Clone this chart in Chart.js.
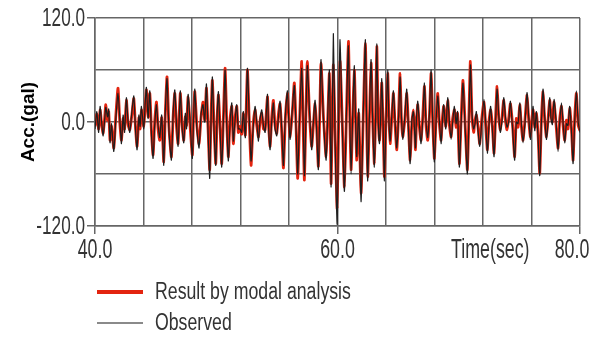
<!DOCTYPE html>
<html>
<head>
<meta charset="utf-8">
<title>Acceleration time history</title>
<script src="https://cdn.jsdelivr.net/npm/chart.js@4.4.0/dist/chart.umd.min.js"></script>
<style>
  html, body { margin: 0; padding: 0; background: #fff; }
  #wrap { position: relative; width: 594px; height: 338px; overflow: hidden; }
  #legend {
    position: absolute; left: 97px; top: 276px;
    font-family: "Liberation Sans", Arial, sans-serif;
    font-size: 23px; color: #333;
  }
  .item { display: flex; align-items: center; height: 31px; }
  .swatch { width: 46px; margin-right: 12px; }
  .item span { display: inline-block; transform: scaleX(0.77); transform-origin: 0 50%; white-space: nowrap; }
</style>
</head>
<body>
<div id="wrap">
  <canvas id="chart" width="594" height="338"></canvas>
  <div id="legend"></div>
</div>
<script>
// ========================== Datos
const times = [
  40.00, 40.15, 40.30, 40.42, 40.56, 40.67, 40.80, 40.89, 41.03, 41.13, 41.24, 41.36, 41.55, 41.72, 41.90,
  42.05, 42.18, 42.32, 42.44, 42.59, 42.73, 42.87, 43.04, 43.20, 43.34, 43.47, 43.62, 43.72, 43.83, 44.02,
  44.14, 44.24, 44.38, 44.52, 44.66, 44.79, 44.93, 45.07, 45.20, 45.34, 45.50, 45.67, 45.80, 45.94,
  46.10, 46.30, 46.45, 46.58, 46.72, 46.85, 46.95, 47.04, 47.18, 47.32, 47.45, 47.55, 47.68, 47.85,
  48.03, 48.13, 48.23, 48.40, 48.58, 48.75, 48.91, 49.05, 49.19, 49.33, 49.46, 49.57, 49.68, 49.82, 49.96,
  50.07, 50.18, 50.32, 50.45, 50.60, 50.73, 50.87, 51.00, 51.14, 51.28, 51.41, 51.55, 51.69, 51.82, 51.96,
  52.10, 52.24, 52.40, 52.57, 52.72, 52.87, 53.03, 53.20, 53.34, 53.48, 53.62, 53.75, 53.89, 54.03,
  54.22, 54.32, 54.44, 54.58, 54.71, 54.85, 54.99, 55.12, 55.26, 55.40, 55.54, 55.70, 55.87,
  55.98, 56.09, 56.27, 56.44, 56.58, 56.72, 56.88, 57.05, 57.16, 57.27, 57.39, 57.51, 57.70, 57.87, 58.01,
  58.15, 58.28, 58.42, 58.53, 58.64, 58.85, 59.06, 59.20, 59.33, 59.40, 59.47, 59.56, 59.66, 59.80, 59.97,
  60.09, 60.21, 60.39, 60.57, 60.73, 60.90, 61.01, 61.12, 61.25, 61.39, 61.49, 61.59, 61.75, 61.94, 62.12,
  62.30, 62.40, 62.49, 62.63, 62.77, 62.90, 63.04, 63.14, 63.24, 63.35, 63.46, 63.55, 63.65, 63.76, 63.87, 64.00,
  64.14, 64.24, 64.34, 64.48, 64.61, 64.75, 64.89, 65.03, 65.16, 65.27, 65.38, 65.55, 65.71, 65.85, 65.99,
  66.13, 66.26, 66.34, 66.43, 66.52, 66.62, 66.75, 66.89, 67.03, 67.17, 67.30, 67.44, 67.58, 67.72, 67.86, 67.99, 68.13,
  68.27, 68.40, 68.54, 68.65, 68.76, 68.93, 69.09, 69.23, 69.37, 69.50, 69.64, 69.78, 69.90, 70.05,
  70.20, 70.35, 70.53, 70.71, 70.84, 70.96, 71.10, 71.23, 71.34, 71.45, 71.59, 71.73, 71.90,
  72.08, 72.22, 72.36, 72.50, 72.63, 72.77, 72.91, 73.04, 73.16, 73.30, 73.43, 73.57, 73.71, 73.85, 73.98,
  74.12, 74.26, 74.44, 74.61, 74.75, 74.89, 75.03, 75.16, 75.30, 75.47, 75.63, 75.77, 75.91,
  76.03, 76.13, 76.27, 76.40, 76.54, 76.68, 76.82, 76.95, 77.09, 77.23, 77.37, 77.50, 77.61, 77.72, 77.86,
  78.03, 78.19, 78.33, 78.47, 78.60, 78.74, 78.88, 79.01, 79.15, 79.29, 79.43, 79.56, 79.70, 79.85, 80.00
];

// Resultado por análisis modal (rojo)
const modal = [
  -5, 9, -8, 14, -4, -13, 5, 20, 2, 12, -21, -5, -30, 8, 39,
  -2, -21, 4, -8, 25, -3, -9, 8, 27, -6, -28, 5, -8, 14, -5,
  18, 37, 6, 33, -12, -38, 2, 23, -8, -21, 5, -46, 10, 52,
  -6, -40, 8, 33, -5, -25, 10, 33, -3, -21, 6, -4, 29, -6,
  -38, 8, 35, -4, -25, 6, 23, 2, 39, -10, -55, 6, 48, -6, -48,
  4, 31, -8, -48, 10, 62, -2, -40, 4, 18, -25, 5, 18, -12, -5,
  -14, 10, -15, 60, 2, -50, -6, 14, -4, -17, 2, 10, -8, -9,
  29, -4, -28, 6, 25, -4, -13, 8, 21, -12, -53, 4, 33,
  6, -17, 10, 45, -4, -65, 4, 70, 0, -67, 6, 70, 6, -28, -4,
  21, -6, -51, 4, 68, 4, -40, 6, 56, 0, -71, -6, 66, -10, -100,
  -8, 70, 2, -75, 4, 93, 10, -55, 2, 60, 6, -44, 10, -82, 4,
  91, 4, -63, 2, 68, 4, -48, 6, 87, 10, -21, 6, 45, -6, -63, 4,
  56, 6, -25, 4, 33, -4, -32, 6, 56, 4, -17, 2, 33, -4, -44,
  -2, 14, -2, -32, 2, 20, -6, -21, 6, 41, -4, -21, 6, 56, -2, -42, 4,
  33, -2, -21, 4, 18, -5, 25, -4, -17, 4, 14, -6, 10, -48,
  4, 48, -4, -55, 8, 70, 4, -12, 2, 8, -6, -25, 4,
  23, -4, -32, 2, 14, -4, -36, 6, 41, 4, -9, 6, 25, 2, -9,
  4, 21, -4, -40, 4, -6, 20, -4, -21, 4, 31, 2, -17,
  4, 14, -6, 10, -14, -59, 4, 35, 2, -17, 4, 25, 8, 0, 23,
  -4, -30, 4, 18, -4, -21, 2, -8, 16, -6, -44, 4, 33, -4, -10
];

// Registro observado (negro)
const observed = [
  -8, 12, -12, 18, -2, -16, 3, 17, 6, 15, -24, -2, -34, 4, 33,
  3, -25, 8, -12, 28, 0, -12, 12, 30, -9, -32, 8, -5, 18, -8,
  22, 40, 4, 36, -16, -42, -2, 20, -4, -18, 8, -50, 14, 50,
  -10, -44, 12, 37, -2, -28, 6, 36, -6, -24, 10, -8, 32, -2,
  -42, 4, 38, -8, -30, 10, 20, 0, 44, -14, -65, 2, 52, -10, -50,
  8, 35, -12, -52, 6, 60, -6, -45, 0, 22, -22, 2, 20, -8, -8,
  -12, 12, -18, 62, 6, -45, -10, 18, 0, -22, 4, 14, -4, -12,
  32, -8, -32, 2, 22, -8, -16, 4, 24, -8, -50, 8, 36,
  2, -20, 14, 42, -8, -60, 8, 62, 5, -62, 2, 65, 10, -32, 0,
  25, -10, -55, 8, 72, 0, -44, 10, 60, -4, -75, 0, 102, -20, -118,
  0, 95, -4, -80, 8, 88, 6, -60, 6, 65, 2, -40, 15, -92, 8,
  95, 0, -68, 6, 72, 0, -52, 2, 90, 6, -25, 2, 50, -2, -68, 0,
  60, 2, -22, 8, 36, 0, -30, 2, 52, 8, -20, 6, 38, -8, -48,
  2, 12, -6, -30, 6, 24, -2, -25, 2, 45, 0, -18, 10, 60, -6, -46, 0,
  30, 2, -25, 0, 20, -8, 28, 0, -20, 0, 18, -2, 12, -52,
  0, 45, -8, -60, 4, 66, 8, -8, -2, 12, -10, -28, 0,
  26, 0, -36, -2, 18, -8, -40, 2, 38, 8, -12, 2, 28, 6, -6,
  0, 24, -8, -44, 0, -2, 22, 0, -24, 0, 34, 6, -20,
  0, 18, -10, 12, -18, -62, 0, 38, 6, -20, 0, 28, 4, -3, 26,
  0, -34, 0, 22, 0, -24, -2, -4, 18, -10, -48, 0, 36, 0, -12
];

const yLabels = [120, 0, -120];
const xLabels = [40, 60, 80];
const xTitleAt = 72.6;
const xTitle = "Time(sec)";
const yTitle = "Acc.(gal)";

// ========================== Gráfica
const gridColor = "#666666";
const textColor = "#333";

const toPoints = (vals) => times.map((t, i) => ({ x: t, y: vals[i] }));

// texto estrecho (la figura usa una fuente condensada)
function squeezedText(ctx, text, x, y, size, sx, align, baseline) {
  ctx.save();
  ctx.translate(x, y);
  ctx.scale(sx, 1);
  ctx.font = size + 'px "Liberation Sans", Arial, sans-serif';
  ctx.fillStyle = textColor;
  ctx.textAlign = align;
  ctx.textBaseline = baseline;
  ctx.fillText(text, 0, 0);
  ctx.restore();
}

const tickLabels = {
  id: "tickLabels",
  afterDraw(chart) {
    const { ctx, scales: { x, y } } = chart;
    yLabels.forEach((v) => {
      squeezedText(ctx, v.toFixed(1), y.right - 10, y.getPixelForValue(v) + 1, 26, 0.66, "right", "middle");
    });
    xLabels.forEach((v) => {
      const px = Math.min(x.getPixelForValue(v), chart.width - 22);
      squeezedText(ctx, v.toFixed(1), px, x.top + 11, 27, 0.66, "center", "top");
    });
    squeezedText(ctx, xTitle, x.getPixelForValue(xTitleAt), x.top + 11, 27, 0.66, "center", "top");
  }
};

const chart = new Chart(document.getElementById("chart"), {
  type: "line",
  data: {
    datasets: [
      {
        label: "Observed",
        data: toPoints(observed),
        borderColor: "#1e1e1e",
        legendColor: "#8a8a8a",
        legendWidth: 2,
        borderWidth: 1.2,
        pointRadius: 0,
        tension: 0.2,
        order: 0
      },
      {
        label: "Result by modal analysis",
        data: toPoints(modal),
        borderColor: "#e3240f",
        legendColor: "#e3240f",
        legendWidth: 4,
        borderWidth: 2.8,
        pointRadius: 0,
        tension: 0.2,
        order: 1
      }
    ]
  },
  options: {
    responsive: false,
    animation: false,
    layout: { autoPadding: false, padding: { left: 0, right: 14, top: 18, bottom: 0 } },
    plugins: { legend: { display: false }, tooltip: { enabled: false } },
    scales: {
      x: {
        type: "linear",
        min: 40, max: 80,
        afterFit: (s) => { s.height = 112; },
        afterBuildTicks: (s) => {
          s.ticks = [];
          for (let v = 40; v <= 80; v += 4) s.ticks.push({ value: v });
        },
        grid: {
          color: gridColor, lineWidth: 1.5, tickLength: 8,
          tickColor: (c) => (c.tick && xLabels.includes(c.tick.value)) ? gridColor : "rgba(0,0,0,0)"
        },
        border: { color: gridColor, width: 1.5 },
        ticks: { display: false }
      },
      y: {
        min: -120, max: 120,
        afterFit: (s) => { s.width = 95; },
        ticks: { display: false, stepSize: 60 },
        grid: {
          color: gridColor, lineWidth: 1.5, tickLength: 8,
          tickColor: (c) => (c.tick && yLabels.includes(c.tick.value)) ? gridColor : "rgba(0,0,0,0)"
        },
        border: { color: gridColor, width: 1.5 },
        title: {
          display: true, text: yTitle, color: "#000",
          font: { family: '"Liberation Sans", Arial, sans-serif', size: 19, weight: "bold" },
          padding: { top: 17, bottom: 0 }
        }
      }
    }
  },
  plugins: [tickLabels]
});

// ========================== Leyenda (HTML)
const legendBox = document.getElementById("legend");
[1, 0].forEach((i) => {
  const ds = chart.data.datasets[i];
  const row = document.createElement("div");
  row.className = "item";
  const sw = document.createElement("div");
  sw.className = "swatch";
  sw.style.borderTop = ds.legendWidth + "px solid " + ds.legendColor;
  const txt = document.createElement("span");
  txt.textContent = ds.label;
  row.appendChild(sw);
  row.appendChild(txt);
  legendBox.appendChild(row);
});
</script>
</body>
</html>
